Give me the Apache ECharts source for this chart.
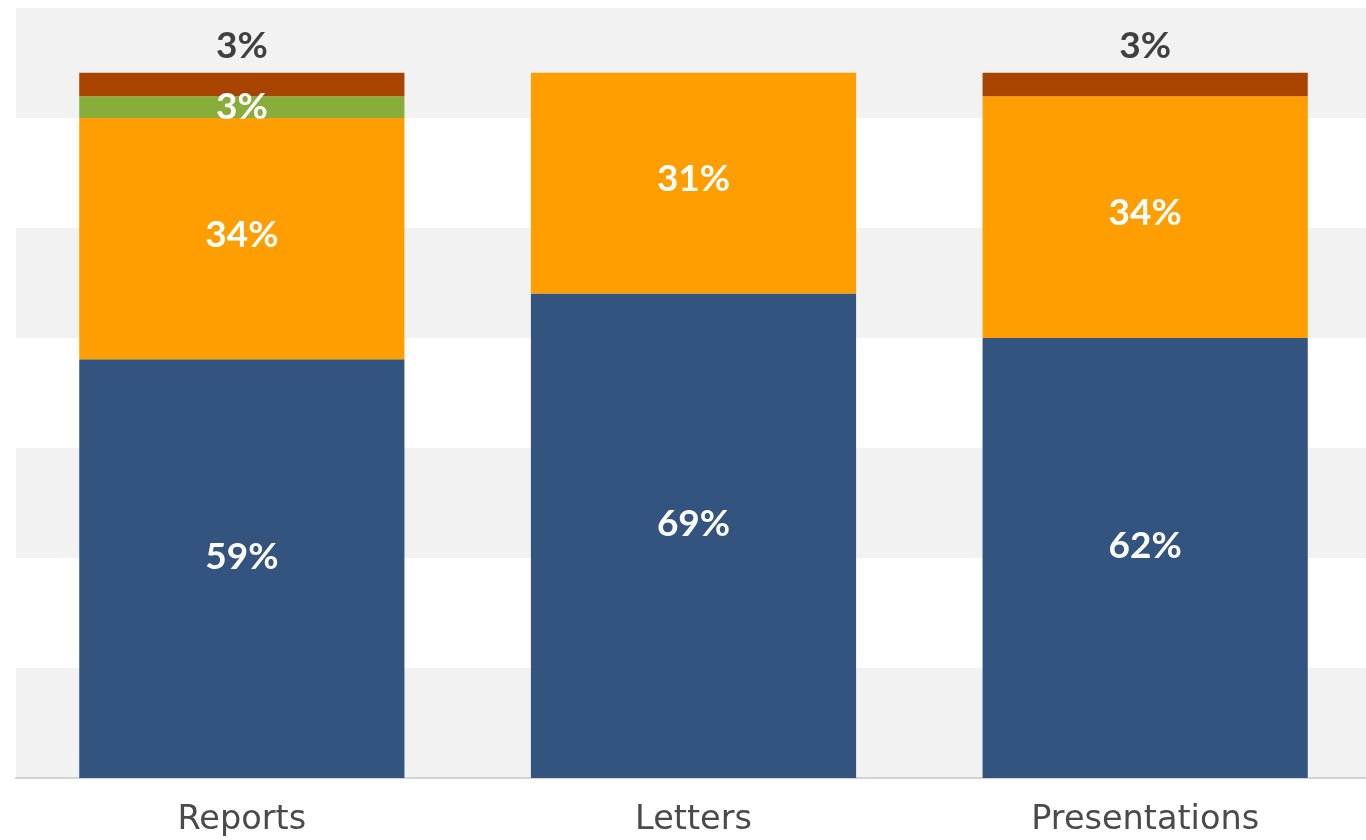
<!DOCTYPE html>
<html>
<head>
<meta charset="utf-8">
<script src="https://cdn.jsdelivr.net/npm/echarts@6/dist/echarts.min.js"></script>
<style>
html,body{margin:0;padding:0;background:#fff;overflow:hidden;}
#chart{width:1371px;height:840px;}
</style>
</head>
<body>
<div id="chart"></div>
<script>
var categories = ['Reports', 'Letters', 'Presentations'];
var blueValues = [59.4, 68.7, 62.4];
var orangeValues = [34.2, 31.3, 34.3];
var greenValues = [3.1, 0, 0];
var brownValues = [3.3, 0, 3.3];

var FONT = 'Lato, "Noto Sans", sans-serif';
var AXIS_FONT = '"DejaVu Sans", sans-serif';

function pct(p) {
  if (!p.value) return '';
  return Math.round(p.value) + '%';
}

var chart = echarts.init(document.getElementById('chart'), null, {renderer: 'canvas'});

function barSeries(name, data, color, label) {
  return {
    name: name,
    type: 'bar',
    stack: 'total',
    data: data,
    barCategoryGap: '28%',
    itemStyle: {color: color},
    label: label
  };
}

var insideLabel = {
  show: true,
  position: 'inside',
  color: '#ffffff',
  fontSize: 37,
  fontWeight: 'bold',
  fontFamily: FONT,
  formatter: pct
};

chart.setOption({
  animation: false,
  grid: {left: 16, right: 0, top: 8, bottom: 62},
  xAxis: {
    type: 'category',
    data: categories,
    axisLine: {show: true, lineStyle: {color: '#d4d4d4', width: 2}},
    axisTick: {show: false},
    axisLabel: {color: '#4a4a4a', fontSize: 33.5, fontFamily: AXIS_FONT, margin: 25}
  },
  yAxis: {
    type: 'value',
    min: 0,
    max: 109.2,
    interval: 15.6,
    axisLabel: {show: false},
    axisLine: {show: false},
    axisTick: {show: false},
    splitLine: {show: false},
    splitArea: {show: true, areaStyle: {color: ['#f2f2f2', '#ffffff']}}
  },
  series: [
    barSeries('Blue', blueValues, '#345480', Object.assign({}, insideLabel, {offset: [0, -12]})),
    barSeries('Orange', orangeValues, '#ff9e00', Object.assign({}, insideLabel, {offset: [0, -4]})),
    barSeries('Green', greenValues, '#88ad3b', insideLabel),
    barSeries('Brown', brownValues, '#a84400', {
      show: true,
      position: 'top',
      distance: 8,
      color: '#404040',
      fontSize: 37,
      fontWeight: 'bold',
      fontFamily: FONT,
      formatter: pct
    })
  ]
});
</script>
</body>
</html>
